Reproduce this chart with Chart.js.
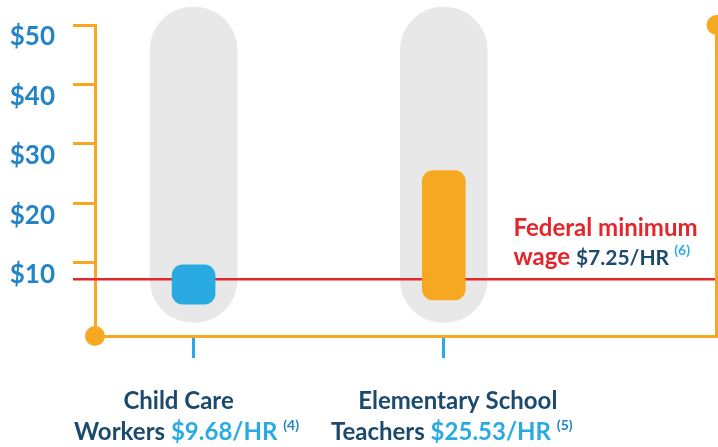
<!DOCTYPE html>
<html>
<head>
<meta charset="utf-8">
<script src="https://cdn.jsdelivr.net/npm/chart.js@4.4.1/dist/chart.umd.min.js"></script>
<style>
  html, body { margin: 0; padding: 0; background: #fff; }
  canvas { display: block; }
</style>
</head>
<body>
<canvas id="wageChart" width="718" height="447"></canvas>
<script>
// hourly wages
const categories = [["Child Care", "Workers"], ["Elementary School", "Teachers"]];
const wages = [9.68, 25.53];
const barBase = [3.1, 3.8];     // bottom of each cylinder
const trackTop = [53, 53];      // grey pill behind each bar
const notes = ["4", "5"];
const minWage = 7.25;
const minWageNote = "6";
const yTicks = [10, 20, 30, 40, 50];

const ORANGE = "#f7a823";
const NAVY = "#1c4a6e";
const LIGHT = "#29abe2";
const MID = "#2484c6";
const RED = "#e2262b";

Chart.defaults.font.family = "Lato";

// draw a line of coloured text segments centred (or left aligned) at x
function drawSegments(ctx, segs, x, y, align) {
  let total = 0;
  segs.forEach(s => {
    ctx.font = s.font;
    s.w = ctx.measureText(s.text).width;
    total += s.w;
  });
  let cx = align === "left" ? x : x - total / 2;
  ctx.textBaseline = "alphabetic";
  ctx.textAlign = "left";
  segs.forEach(s => {
    ctx.font = s.font;
    ctx.fillStyle = s.color;
    ctx.fillText(s.text, cx, y - (s.rise || 0));
    cx += s.w;
  });
}

const decorPlugin = {
  id: "decor",
  afterDatasetDraw(chart, args) {
    // red minimum wage line goes between the grey tracks and the bars
    if (args.index !== 1) return;
    const { ctx, chartArea, scales: { y } } = chart;
    const py = y.getPixelForValue(minWage);
    ctx.save();
    ctx.strokeStyle = RED;
    ctx.lineWidth = 2.5;
    ctx.beginPath();
    ctx.moveTo(chartArea.left - 22, py);
    ctx.lineTo(chartArea.right, py);
    ctx.stroke();
    ctx.restore();
  },
  afterDraw(chart) {
    const { ctx, chartArea, scales: { x, y } } = chart;
    const top = y.getPixelForValue(50);
    ctx.save();
    // right frame line and the two dots
    ctx.strokeStyle = ORANGE;
    ctx.lineWidth = 3;
    ctx.beginPath();
    ctx.moveTo(chartArea.right, top);
    ctx.lineTo(chartArea.right, chartArea.bottom + 1.5);
    ctx.stroke();
    ctx.fillStyle = ORANGE;
    ctx.beginPath();
    ctx.arc(chartArea.left, chartArea.bottom, 10, 0, Math.PI * 2);
    ctx.fill();
    ctx.beginPath();
    ctx.arc(chartArea.right, top, 10, 0, Math.PI * 2);
    ctx.fill();

    // category labels (lines are not quite centred on the ticks in the original)
    const big = "bold 24px Lato";
    const sup = "bold 14px Lato";
    const shift = [[-15, -7], [14, 8]];
    categories.forEach((lines, i) => {
      const cx = x.getPixelForValue(i + 1);
      drawSegments(ctx, [{ text: lines[0], font: big, color: NAVY }], cx + shift[i][0], chartArea.bottom + 73);
      drawSegments(ctx, [
        { text: lines[1] + " ", font: big, color: NAVY },
        { text: "$" + wages[i].toFixed(2) + "/HR ", font: big, color: LIGHT },
        { text: "(" + notes[i] + ")", font: sup, color: MID, rise: 10 }
      ], cx + shift[i][1], chartArea.bottom + 104);
    });

    // federal minimum wage label
    const py = y.getPixelForValue(minWage);
    const lx = chartArea.right - 203;
    drawSegments(ctx, [{ text: "Federal minimum", font: "bold 24px Lato", color: RED }], lx, py - 43, "left");
    drawSegments(ctx, [
      { text: "wage ", font: "bold 24px Lato", color: RED },
      { text: "$" + minWage.toFixed(2) + "/HR ", font: "bold 21px Lato", color: NAVY },
      { text: "(" + minWageNote + ")", font: "bold 14px Lato", color: LIGHT, rise: 10 }
    ], lx, py - 14, "left");
    ctx.restore();
  }
};

new Chart(document.getElementById("wageChart"), {
  type: "bar",
  data: {
    datasets: [
      {
        data: wages.map((v, i) => ({ x: i + 1, y: [barBase[i], v] })),
        backgroundColor: [LIGHT, ORANGE],
        barThickness: 43,
        borderRadius: 11,
        borderSkipped: false,
        grouped: false,
        order: 0
      },
      {
        data: trackTop.map((v, i) => ({ x: i + 1, y: [0, v] })),
        backgroundColor: "#e8e8e8",
        barThickness: 87,
        borderRadius: 43,
        borderSkipped: false,
        grouped: false,
        clip: false,
        order: 1
      }
    ]
  },
  options: {
    responsive: false,
    devicePixelRatio: 1,
    animation: false,
    layout: { padding: { left: 10, right: 1.5, top: 25, bottom: 89 } },
    plugins: { legend: { display: false }, tooltip: { enabled: false } },
    scales: {
      x: {
        type: "linear",
        min: 0.606,
        max: 3.09,
        offset: false,
        afterBuildTicks: s => { s.ticks = categories.map((c, i) => ({ value: i + 1 })); },
        afterFit: s => { s.height = 22; s.paddingLeft = 0; s.paddingRight = 0; },
        ticks: { display: false },
        grid: { drawOnChartArea: false, offset: false, tickLength: 22, color: LIGHT, lineWidth: 3 },
        border: { color: ORANGE, width: 3 }
      },
      y: {
        min: -2.27,
        max: 50,
        afterBuildTicks: s => { s.ticks = yTicks.map(v => ({ value: v })); },
        afterFit: s => { s.width = 85; s.paddingTop = 0; s.paddingBottom = 0; },
        ticks: {
          callback: v => "$" + v,
          color: MID,
          font: { size: 26, weight: "bold" },
          padding: 18,
          labelOffset: 12
        },
        grid: { drawOnChartArea: false, tickLength: 22, color: ORANGE, lineWidth: 3 },
        border: { color: ORANGE, width: 3 }
      }
    }
  },
  plugins: [decorPlugin]
});
</script>
</body>
</html>
